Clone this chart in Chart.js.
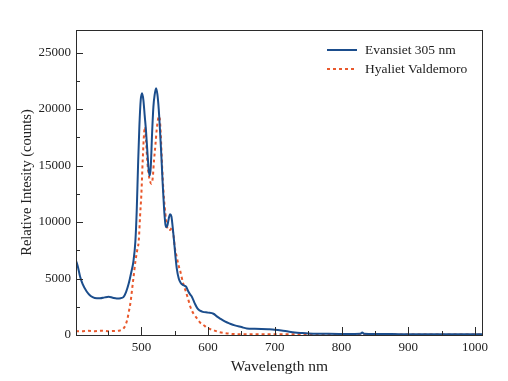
<!DOCTYPE html>
<html>
<head>
<meta charset="utf-8">
<script src="https://cdn.jsdelivr.net/npm/chart.js@4.4.1/dist/chart.umd.min.js"></script>
<style>
  html, body { margin: 0; padding: 0; background: #ffffff; }
  #wrap { width: 508px; height: 381px; position: relative; }
</style>
</head>
<body>
<div id="wrap"><canvas id="c" width="508" height="381"></canvas></div>
<script>
// ---- data ----
const seriesNames = ["Evansiet 305 nm", "Hyaliet Valdemoro"];

const evansietWavelength = [402,405,408,412,418,424,430,438,445,451,457,463,469,473,477,481,485,488,491,493,495,497,499,501,503,505,507,509,511,512.5,514,516,518,520,522,524,526,528,530,532,534,536,537.5,539,541,543,545,547,549,551,553,556,559,563,567,570,573,576,580,584,588,592,600,608,613,618,625,633,640,650,658,670,680,690,700,710,720,730,740,750,775,800,820,828,831,834,850,875,900,925,950,975,1000,1012];
const evansietIntensity  = [6600,6000,5200,4500,3850,3450,3280,3250,3330,3380,3300,3240,3260,3350,3800,4550,5600,6500,8300,11000,15000,18500,20800,21400,20800,19400,18000,16200,14600,14100,14800,17800,20200,21300,21850,21300,20000,18000,15800,13300,11200,9800,9550,9700,10300,10700,10500,9500,8300,7000,5900,5000,4600,4400,4280,3900,3600,3350,2800,2350,2150,2050,1980,1880,1650,1450,1200,1000,850,700,580,560,540,510,470,400,310,230,180,140,110,90,90,100,220,100,80,80,70,70,60,60,60,60];

const hyalietWavelength = [402,410,420,430,440,450,460,468,472,476,479,481,484,486,488,491,494,496,498,500,502,504,505.5,507,509,511,513,515,517,519,521,523,525,527,529,531,533,535,537,540,543,546,548,550,553,556,558.5,562,566,570,573.5,578,583.5,588,593.5,600,608.5,615,623.5,635,650,700,750,800,850,900,950,1000,1012];
const hyalietIntensity  = [350,330,380,340,370,340,360,400,500,850,1400,2000,3000,4000,5000,6500,7600,8300,10500,12500,15500,17800,18400,17200,15300,14200,13600,13400,13900,15500,16800,18200,19100,19350,17800,15000,12800,11300,10200,9300,9300,9500,8900,7800,6900,6100,5600,4700,3960,3200,2480,1900,1450,1100,860,600,420,280,180,100,70,60,55,50,50,50,50,50,50];

// labelled (major) ticks and all tick positions (major + minor)
const xTickLabels = [500,600,700,800,900,1000];
const xTickValues = [450,500,550,600,650,700,750,800,850,900,950,1000];
const yTickLabels = [0,5000,10000,15000,20000,25000];
const yTickValues = [0,2500,5000,7500,10000,12500,15000,17500,20000,22500,25000];

const xTitle = "Wavelength nm";
const yTitle = "Relative Intesity (counts)";

// ---- build chart ----
function toPoints(xs, ys) { return xs.map((x, i) => ({ x: x, y: ys[i] })); }

const SERIF = "'Liberation Serif', 'Times New Roman', serif";
const AXIS_COLOR = "#2b2b2b";

const frameAndTicks = {
  id: 'frameAndTicks',
  afterDraw(chart) {
    const { ctx, chartArea: a, scales } = chart;
    ctx.save();
    ctx.strokeStyle = AXIS_COLOR;
    ctx.lineWidth = 1;
    ctx.strokeRect(a.left + 0.5, a.top + 0.5, a.right - a.left - 1, a.bottom - a.top);
    // inward ticks on x axis
    const xs = scales.x;
    xs.ticks.forEach(t => {
      const px = Math.round(xs.getPixelForValue(t.value)) + 0.5;
      const len = xTickLabels.includes(t.value) ? 8 : 4;
      ctx.beginPath();
      ctx.moveTo(px, a.bottom);
      ctx.lineTo(px, a.bottom - len);
      ctx.stroke();
    });
    const ys = scales.y;
    ys.ticks.forEach(t => {
      const py = Math.round(ys.getPixelForValue(t.value)) + 0.5;
      const len = yTickLabels.includes(t.value) ? 7 : 4;
      ctx.beginPath();
      ctx.moveTo(a.left, py);
      ctx.lineTo(a.left + len, py);
      ctx.stroke();
    });
    // legend inside the plot
    const lx = a.right - 156, ly0 = a.top + 20, gap = 19;
    ctx.font = "13.5px " + SERIF;
    ctx.textBaseline = 'middle';
    ctx.textAlign = 'left';
    chart.data.datasets.forEach((ds, i) => {
      const y = ly0 + i * gap;
      ctx.strokeStyle = ds.borderColor;
      ctx.lineWidth = ds.borderWidth;
      ctx.setLineDash(ds.borderDash || []);
      ctx.beginPath();
      ctx.moveTo(lx, y);
      ctx.lineTo(lx + 30, y);
      ctx.stroke();
      ctx.setLineDash([]);
      ctx.fillStyle = '#222';
      ctx.fillText(ds.label, lx + 38, y + 0.5);
    });
    ctx.restore();
  }
};

new Chart(document.getElementById('c'), {
  type: 'line',
  data: {
    datasets: [
      {
        label: seriesNames[0],
        data: toPoints(evansietWavelength, evansietIntensity),
        borderColor: '#1b4d8c',
        borderWidth: 2,
        pointRadius: 0,
        cubicInterpolationMode: 'monotone',
        fill: false
      },
      {
        label: seriesNames[1],
        data: toPoints(hyalietWavelength, hyalietIntensity),
        borderColor: '#e9582c',
        borderWidth: 2,
        borderDash: [3, 3],
        pointRadius: 0,
        cubicInterpolationMode: 'monotone',
        fill: false
      }
    ]
  },
  options: {
    responsive: false,
    animation: false,
    layout: { padding: { top: 30, right: 25, left: 0, bottom: 0 } },
    plugins: { legend: { display: false }, tooltip: { enabled: false } },
    scales: {
      x: {
        type: 'linear',
        min: 402,
        max: 1012,
        grid: { display: false, drawTicks: false },
        border: { display: false },
        afterBuildTicks: s => { s.ticks = xTickValues.map(v => ({ value: v })); },
        ticks: {
          autoSkip: false,
          maxRotation: 0,
          padding: 5,
          color: '#222',
          font: { family: SERIF, size: 13 },
          callback: v => xTickLabels.includes(v) ? String(v) : ''
        },
        title: {
          display: true,
          text: xTitle,
          color: '#222',
          font: { family: SERIF, size: 15.5 },
          padding: { top: 0, bottom: 5 }
        },
        afterFit: s => { s.height = 46; }
      },
      y: {
        type: 'linear',
        min: 0,
        max: 27000,
        grid: { display: false, drawTicks: false },
        border: { display: false },
        afterBuildTicks: s => { s.ticks = yTickValues.map(v => ({ value: v })); },
        ticks: {
          autoSkip: false,
          padding: 5,
          color: '#222',
          font: { family: SERIF, size: 13 },
          callback: v => yTickLabels.includes(v) ? String(v) : ''
        },
        title: {
          display: true,
          text: yTitle,
          color: '#222',
          font: { family: SERIF, size: 14.5 },
          padding: { top: 18, bottom: 0 }
        },
        afterFit: s => { s.width = 76; }
      }
    }
  },
  plugins: [frameAndTicks]
});
</script>
</body>
</html>
